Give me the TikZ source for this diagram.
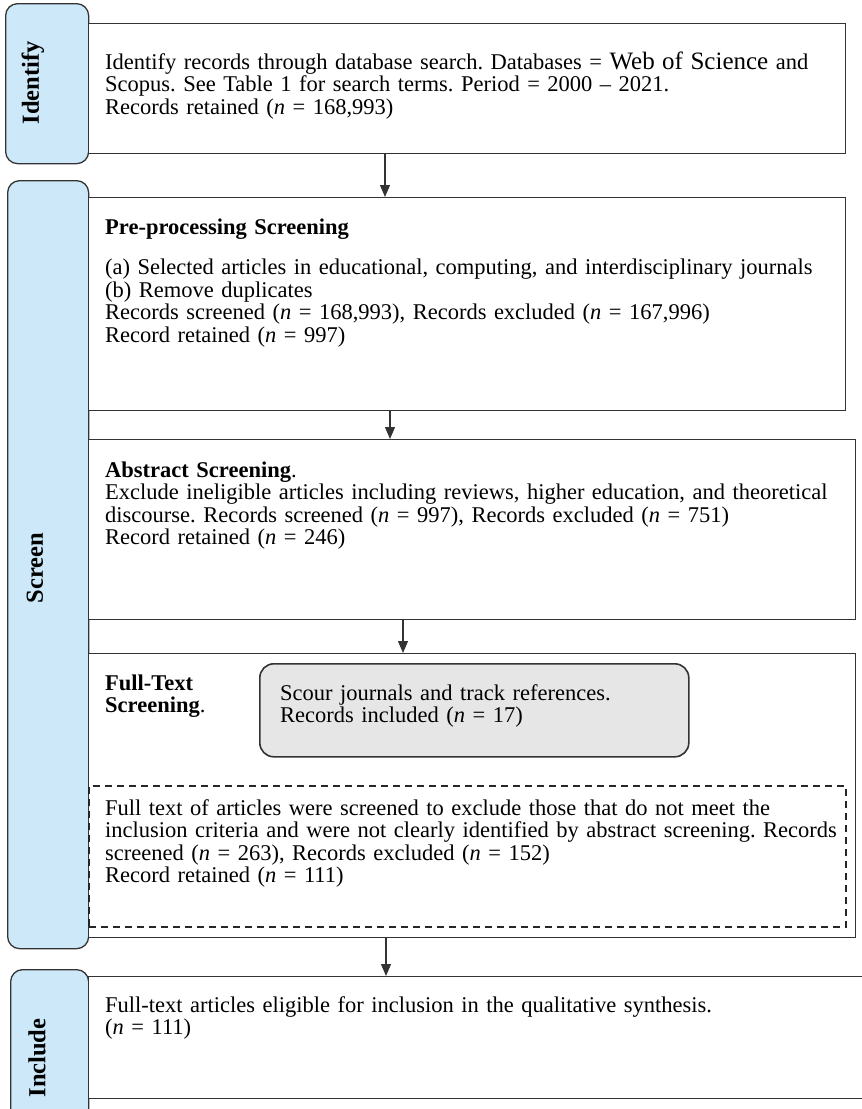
\documentclass[tikz,border=0pt]{standalone}
\usepackage{fontspec}
\setmainfont{Liberation Serif}
\usetikzlibrary{arrows.meta,positioning}
\definecolor{sideblue}{HTML}{CDE8F9}
\definecolor{boxline}{HTML}{333333}
\definecolor{greyfill}{HTML}{E6E6E6}
\newcommand{\bodyfont}{\fontsize{22.5}{22.5}\selectfont\frenchspacing}
\newcommand{\wosfont}{\fontsize{25}{22.5}\selectfont}

\begin{document}
\begin{tikzpicture}[x=1pt,y=-1pt,
  side/.style={draw=boxline,fill=sideblue,rounded corners=12pt,line width=1.3pt,
    anchor=north west,inner sep=0pt},
  stage/.style={draw=boxline,fill=white,line width=1.1pt,anchor=north west,inner sep=0pt},
  dashbox/.style={draw=black!85,line width=1.7pt,dash pattern=on 7pt off 5pt,
    anchor=north west,inner sep=0pt},
  greybox/.style={draw=boxline,fill=greyfill,rounded corners=14pt,line width=1.6pt,
    anchor=north west,inner sep=0pt},
  txt/.style={anchor=base west,align=left,inner sep=0pt,text width=760pt,font=\bodyfont},
  sidelab/.style={rotate=90,inner sep=0pt,font=\fontsize{24.5}{24.5}\selectfont\bfseries},
  arr/.style={-{Stealth[length=12pt,width=10pt,inset=0pt]},boxline,line width=1.2pt}]
\useasboundingbox (0,0) rectangle (862,1109);
\clip (0,0) rectangle (862,1109);

% stage tabs on the left
\node[side,minimum width=83pt,minimum height=160pt] (idside) at (5,3) {};
\node[side,minimum width=81pt,minimum height=768pt] (scside) at (7,180) {};
\node[side,minimum width=78pt,minimum height=180pt] (inside) at (10,969) {};
\node[sidelab] (idlab) at (33,83) {Identify};
\node[sidelab] (sclab) at (35,568) {Screen};
\node[sidelab] (inlab) at (37,1058) {Include};

% identify
\node[stage,minimum width=757pt,minimum height=130pt] (idbox) at (88,23) {};
\node[txt] (idtxt) at (105,69) {Identify records through database search. Databases = {\wosfont Web of Science} and\\
  Scopus. See Table 1 for search terms. Period = 2000 -- 2021.\\
  Records retained (\textit{n} = 168,993)};

% screen
\node[stage,minimum width=757pt,minimum height=213pt] (prebox) at (88,197) {};
\node[txt] (pretxt) at (105,234) {\textbf{Pre-processing Screening}\\[18pt]
  (a) Selected articles in educational, computing, and interdisciplinary journals\\
  (b) Remove duplicates\\
  Records screened (\textit{n} = 168,993), Records excluded (\textit{n} = 167,996)\\
  Record retained (\textit{n} = 997)};

\node[stage,minimum width=767pt,minimum height=180pt] (absbox) at (88,439) {};
\node[txt] (abstxt) at (105,477) {\textbf{Abstract Screening}.\\
  Exclude ineligible articles including reviews, higher education, and theoretical\\
  discourse. Records screened (\textit{n} = 997), Records excluded (\textit{n} = 751)\\
  Record retained (\textit{n} = 246)};

\node[stage,minimum width=767pt,minimum height=284pt] (ftbox) at (88,653) {};
\node[txt] (fttxt) at (105,690) {\textbf{Full-Text}\\\textbf{Screening}.};
\node[greybox,minimum width=429pt,minimum height=93pt] (scour) at (259,663) {};
\node[txt] (scourtxt) at (280,700) {Scour journals and track references.\\
  Records included (\textit{n} = 17)};
\node[dashbox,minimum width=757pt,minimum height=141pt] (ftdash) at (88,785) {};
\node[txt] (dashtxt) at (105,815) {Full text of articles were screened to exclude those that do not meet the\\
  inclusion criteria and were not clearly identified by abstract screening. Records\\
  screened (\textit{n} = 263), Records excluded (\textit{n} = 152)\\
  Record retained (\textit{n} = 111)};

% include
\node[stage,minimum width=800pt,minimum height=122pt] (incbox) at (88,976) {};
\node[txt] (inctxt) at (105,1012) {Full-text articles eligible for inclusion in the qualitative synthesis.\\
  (\textit{n} = 111)};

% arrows between stages
\draw[arr] (idbox.south -| 385,0) -- (prebox.north -| 385,0);
\draw[arr] (prebox.south -| 390,0) -- (absbox.north -| 390,0);
\draw[arr] (absbox.south -| 403,0) -- (ftbox.north -| 403,0);
\draw[arr] (ftbox.south -| 386,0) -- (incbox.north -| 386,0);
\end{tikzpicture}
\end{document}
